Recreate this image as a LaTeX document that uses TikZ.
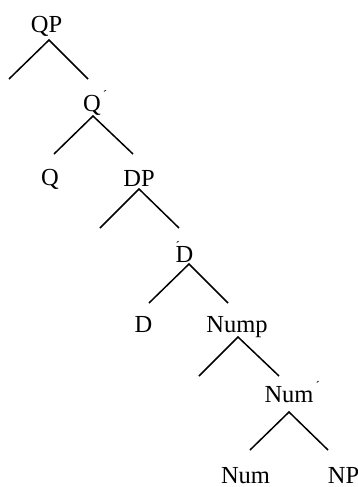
\documentclass[tikz,border=0pt]{standalone}
\usepackage{fontspec}
\setmainfont{Liberation Serif}
\newcommand{\bartick}{\rlap{\hspace{2pt}\raisebox{12pt}{\fontsize{13}{13}\selectfont ´}}}
\newcommand{\toptick}{\rlap{\hspace{0pt}\raisebox{12pt}{\fontsize{13}{13}\selectfont ´}}}

\begin{document}
\begin{tikzpicture}
[x=1pt,y=-1pt,
cat/.style={anchor=base,inner sep=0pt,font=\fontsize{24.5}{24.5}\selectfont},
branch/.style={line width=1.5pt}]
\useasboundingbox (0,0) rectangle (357,487);
% labels
\node[cat] (QP) at (46.5,33) {QP};
\node[cat] (Qbar) at (92,111) {Q\bartick};
\node[cat] (Q) at (50,185) {Q};
\node[cat] (DP) at (139,186) {DP};
\node[cat] (Dbar) at (184.5,262) {\toptick D};
\node[cat] (D) at (143.5,332) {D};
\node[cat] (Nump) at (237,332) {Nump};
\node[cat] (Numbar) at (289,402) {Num\bartick};
\node[cat] (Num) at (245.5,483) {Num};
\node[cat] (NP) at (343.5,483) {NP};
% branch points
\coordinate (QP-a) at (49,40);    \coordinate (QP-l) at (9,79);      \coordinate (QP-r) at (88,79);
\coordinate (Qbar-a) at (93,116); \coordinate (Qbar-l) at (54,154);  \coordinate (Qbar-r) at (133,154);
\coordinate (DP-a) at (139,189);  \coordinate (DP-l) at (100,228);   \coordinate (DP-r) at (179,228);
\coordinate (Dbar-a) at (189,264);\coordinate (Dbar-l) at (149,303); \coordinate (Dbar-r) at (228,303);
\coordinate (Nump-a) at (238,337);\coordinate (Nump-l) at (199,376); \coordinate (Nump-r) at (279,376);
\coordinate (Numbar-a) at (289,412);\coordinate (Numbar-l) at (250,450);\coordinate (Numbar-r) at (328,450);
\foreach \n in {QP,Qbar,DP,Dbar,Nump,Numbar}
	\draw[branch] (\n-l) -- (\n-a) -- (\n-r);
\end{tikzpicture}
\end{document}
